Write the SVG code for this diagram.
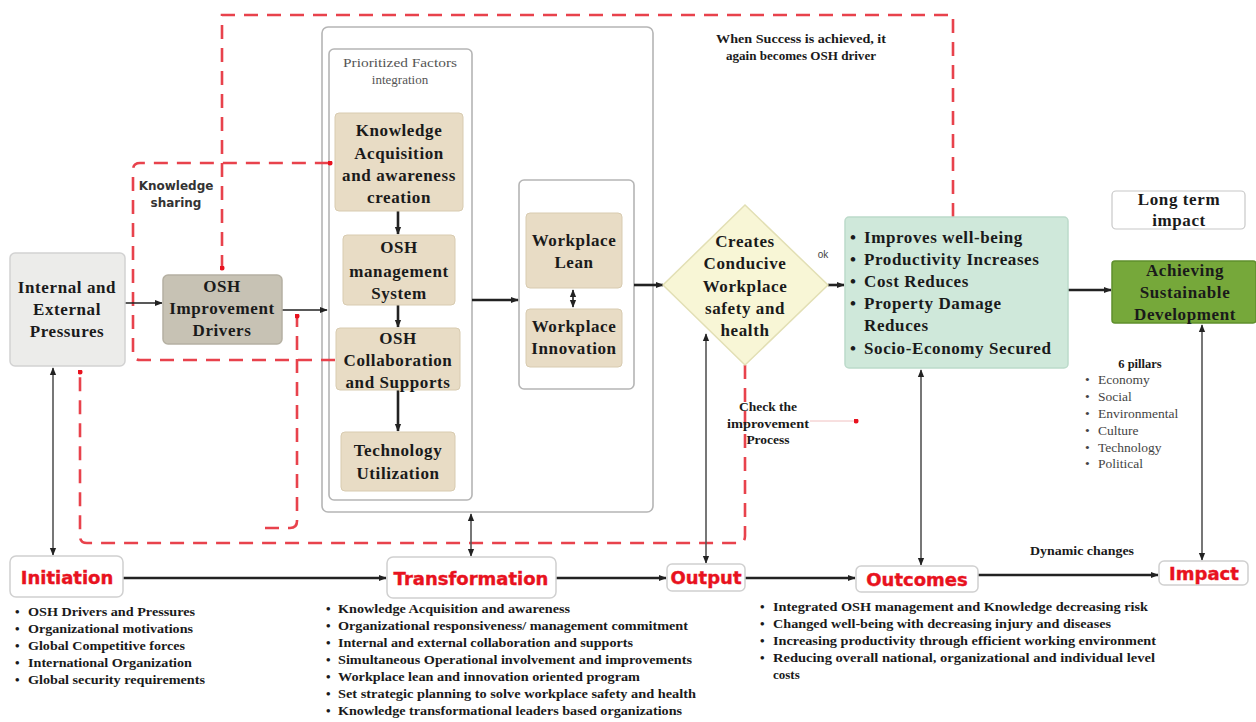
<svg xmlns="http://www.w3.org/2000/svg" width="1256" height="722" viewBox="0 0 1256 722">
<style>
.t{font-family:"Liberation Serif","Times New Roman",serif;font-weight:bold;fill:#1a1a1a;}
.n{font-size:17px;letter-spacing:0.6px;text-anchor:middle;}
.s{font-size:13px;}
.sm{font-size:12.5px;}
.r{font-family:"DejaVu Sans","Liberation Sans",sans-serif;font-weight:bold;fill:#e8121e;stroke:#e8121e;stroke-width:0.4;font-size:18px;text-anchor:middle;}
.lb{fill:#fff;stroke:#d0d0d0;stroke-width:1.5;}
.tan{fill:#e8dcc5;stroke:#d8cbb0;stroke-width:1;}
.c{fill:none;stroke:#222;stroke-width:1.6;}
.ck{fill:none;stroke:#222;stroke-width:2.6;}
.cg{fill:none;stroke:#555;stroke-width:1.6;}
.rd{fill:none;stroke:#e8424c;stroke-width:2.6;stroke-dasharray:14 9;}
.ks{font-family:"DejaVu Sans","Liberation Sans",sans-serif;font-weight:bold;font-size:12px;fill:#333;text-anchor:middle;}
</style>
<defs>
<marker id="a" viewBox="0 0 10 10" refX="9" refY="5" markerWidth="8" markerHeight="8" markerUnits="userSpaceOnUse" orient="auto-start-reverse"><path d="M0,1 L10,5 L0,9 Z" fill="#222"/></marker>
<marker id="d" viewBox="0 0 10 10" refX="5" refY="5" markerWidth="5" markerHeight="5" markerUnits="userSpaceOnUse"><circle cx="5" cy="5" r="5" fill="#e8121e"/></marker>
</defs>
<rect width="1256" height="722" fill="#fff"/>

<!-- containers -->
<g id="outer-box"><rect x="322" y="27" width="331" height="485" rx="6" fill="none" stroke="#b5b5b5" stroke-width="1.6"/></g>
<g id="prioritized-box"><rect x="329" y="49" width="143" height="451" rx="5" fill="none" stroke="#b5b5b5" stroke-width="1.6"/>
<text x="400" y="67" font-family="Liberation Serif,serif" font-size="13" fill="#555" text-anchor="middle" textLength="114" lengthAdjust="spacingAndGlyphs">Prioritized Factors</text>
<text x="400" y="84" font-family="Liberation Serif,serif" font-size="13" fill="#555" text-anchor="middle">integration</text></g>
<g id="workplace-box"><rect x="519" y="180" width="115" height="209" rx="5" fill="none" stroke="#b5b5b5" stroke-width="1.6"/></g>

<g id="connectors">
<path class="rd" d="M953,217 V15 H222 V268" marker-end="url(#d)"/>
<path class="rd" d="M335,360 H140 Q133,360 133,353 V170 Q133,163 140,163 H330" marker-end="url(#d)"/>
<path class="rd" d="M265,528 H290 Q297,528 297,521 V316" marker-end="url(#d)"/>
<path class="rd" d="M745,365 V536 Q745,543 738,543 H87 Q80,543 80,536 V372" marker-end="url(#d)"/>
<path d="M810,421 H856" stroke="#f0c0c0" stroke-width="1" fill="none" marker-end="url(#d)"/>
<path class="c" d="M125,303 H162" marker-end="url(#a)"/>
<path class="c" d="M282,310 H327" marker-end="url(#a)"/>
<path class="ck" d="M398,211 V234" marker-end="url(#a)"/>
<path class="ck" d="M398,305 V327" marker-end="url(#a)"/>
<path class="ck" d="M398,390 V431" marker-end="url(#a)"/>
<path class="ck" d="M472,300 H518" marker-end="url(#a)"/>
<path class="c" d="M573,290 V307" marker-start="url(#a)" marker-end="url(#a)"/>
<path class="ck" d="M634,285 H663" marker-end="url(#a)"/>
<path class="ck" d="M828,285 H844" marker-end="url(#a)"/>
<path class="ck" d="M1068,290 H1111" marker-end="url(#a)"/>
<path class="ck" d="M123,578 H386" marker-end="url(#a)"/>
<path class="ck" d="M556,578 H666" marker-end="url(#a)"/>
<path class="ck" d="M745,578 H855" marker-end="url(#a)"/>
<path class="ck" d="M978,575 H1158" marker-end="url(#a)"/>
<path class="cg" d="M53,368 V555" marker-start="url(#a)" marker-end="url(#a)"/>
<path class="cg" d="M471,514 V556" marker-start="url(#a)" marker-end="url(#a)"/>
<path class="cg" d="M706,334 V563" marker-start="url(#a)" marker-end="url(#a)"/>
<path class="cg" d="M921,370 V565" marker-start="url(#a)" marker-end="url(#a)"/>
<path class="cg" d="M1202,325 V560" marker-start="url(#a)" marker-end="url(#a)"/>
</g>

<g id="internal-external">
<rect x="10" y="253" width="115" height="113" rx="5" fill="#ececea" stroke="#d2d2d2" stroke-width="1.5"/>
<text class="t n" x="67" y="293">Internal and</text>
<text class="t n" x="67" y="315">External</text>
<text class="t n" x="67" y="337">Pressures</text>
</g>
<g id="osh-drivers">
<rect x="163" y="275" width="119" height="69" rx="5" fill="#c7c2b4" stroke="#b5b0a2" stroke-width="1.5"/>
<text class="t n" x="222" y="292">OSH</text>
<text class="t n" x="222" y="314">Improvement</text>
<text class="t n" x="222" y="336">Drivers</text>
</g>
<g id="knowledge-acquisition">
<rect class="tan" x="335" y="113" width="128" height="98" rx="4"/>
<text class="t n" x="399" y="136">Knowledge</text>
<text class="t n" x="399" y="159">Acquisition</text>
<text class="t n" x="399" y="181">and awareness</text>
<text class="t n" x="399" y="203">creation</text>
</g>
<g id="osh-management">
<rect class="tan" x="343" y="235" width="112" height="70" rx="4"/>
<text class="t n" x="399" y="253">OSH</text>
<text class="t n" x="399" y="277">management</text>
<text class="t n" x="399" y="299">System</text>
</g>
<g id="osh-collaboration">
<rect class="tan" x="336" y="328" width="124" height="62" rx="4"/>
<text class="t n" x="398" y="344">OSH</text>
<text class="t n" x="398" y="366">Collaboration</text>
<text class="t n" x="398" y="388">and Supports</text>
</g>
<g id="technology">
<rect class="tan" x="341" y="432" width="114" height="59" rx="4"/>
<text class="t n" x="398" y="456">Technology</text>
<text class="t n" x="398" y="479">Utilization</text>
</g>
<g id="workplace-lean">
<rect class="tan" x="526" y="213" width="96" height="75" rx="4"/>
<text class="t n" x="574" y="246">Workplace</text>
<text class="t n" x="574" y="268">Lean</text>
</g>
<g id="workplace-innovation">
<rect class="tan" x="526" y="309" width="96" height="58" rx="4"/>
<text class="t n" x="574" y="332">Workplace</text>
<text class="t n" x="574" y="354">Innovation</text>
</g>
<g id="conducive">
<polygon points="745,205 828,285 745,365 663,285" fill="#f8f6d6" stroke="#e2dfb4" stroke-width="1.5"/>
<text class="t n" x="745" y="247">Creates</text>
<text class="t n" x="745" y="269">Conducive</text>
<text class="t n" x="745" y="292">Workplace</text>
<text class="t n" x="745" y="314">safety and</text>
<text class="t n" x="745" y="336">health</text>
</g>
<g id="outcome-benefits">
<rect x="845" y="217" width="223" height="151" rx="4" fill="#cfe8da" stroke="#bcdaca" stroke-width="1.5"/>
<g class="t" font-size="17" style="letter-spacing:0.6px">
<text x="850" y="243">•</text><text x="864" y="243">Improves well-being</text>
<text x="850" y="265">•</text><text x="864" y="265">Productivity Increases</text>
<text x="850" y="287">•</text><text x="864" y="287">Cost Reduces</text>
<text x="850" y="309">•</text><text x="864" y="309">Property Damage</text>
<text x="864" y="331">Reduces</text>
<text x="850" y="354">•</text><text x="864" y="354">Socio-Economy Secured</text>
</g>
</g>
<g id="achieving">
<rect x="1112" y="261" width="144" height="62" rx="3" fill="#76a83a" stroke="#5f8f2c" stroke-width="1.5"/>
<text class="t n" x="1185" y="276">Achieving</text>
<text class="t n" x="1185" y="298">Sustainable</text>
<text class="t n" x="1185" y="320">Development</text>
</g>
<g id="long-term">
<rect x="1112" y="191" width="133" height="38" rx="4" fill="#fff" stroke="#c8c8c8" stroke-width="1.2"/>
<text class="t n" x="1179" y="205" font-size="16">Long term</text>
<text class="t n" x="1179" y="226" font-size="16">impact</text>
</g>
<g id="pillars">
<text class="t sm" x="1140" y="368" text-anchor="middle">6 pillars</text>
<g font-family="Liberation Serif,serif" font-size="13.5" fill="#444">
<text x="1085" y="384">•</text><text x="1098" y="384">Economy</text>
<text x="1085" y="401">•</text><text x="1098" y="401">Social</text>
<text x="1085" y="418">•</text><text x="1098" y="418">Environmental</text>
<text x="1085" y="435">•</text><text x="1098" y="435">Culture</text>
<text x="1085" y="452">•</text><text x="1098" y="452">Technology</text>
<text x="1085" y="468">•</text><text x="1098" y="468">Political</text>
</g>
</g>
<g id="labels">
<text class="t sm" x="801" y="43" text-anchor="middle" textLength="170" lengthAdjust="spacingAndGlyphs">When Success is achieved, it</text>
<text class="t sm" x="801" y="60" text-anchor="middle" textLength="150" lengthAdjust="spacingAndGlyphs">again becomes OSH driver</text>
<text class="ks" x="176" y="190">Knowledge</text>
<text class="ks" x="176" y="207">sharing</text>
<text x="823" y="258" font-family="Liberation Sans,Arial,sans-serif" font-size="10" fill="#444" text-anchor="middle">ok</text>
<text class="t" font-size="13.5" x="768" y="411" text-anchor="middle">Check the</text>
<text class="t" font-size="13.5" x="768" y="428" text-anchor="middle" textLength="82" lengthAdjust="spacingAndGlyphs">improvement</text>
<text class="t" font-size="13.5" x="768" y="444" text-anchor="middle">Process</text>
<text class="t" font-size="13" x="1082" y="555" text-anchor="middle" textLength="104" lengthAdjust="spacingAndGlyphs">Dynamic changes</text>
</g>

<g id="initiation">
<rect class="lb" x="10" y="556" width="113" height="41" rx="6"/>
<text class="r" x="67" y="584">Initiation</text>
<g class="t s">
<text x="15" y="616">•</text><text x="28" y="616" textLength="167" lengthAdjust="spacingAndGlyphs">OSH Drivers and Pressures</text>
<text x="15" y="633">•</text><text x="28" y="633" textLength="165" lengthAdjust="spacingAndGlyphs">Organizational motivations</text>
<text x="15" y="650">•</text><text x="28" y="650" textLength="157" lengthAdjust="spacingAndGlyphs">Global Competitive forces</text>
<text x="15" y="667">•</text><text x="28" y="667" textLength="164" lengthAdjust="spacingAndGlyphs">International Organization</text>
<text x="15" y="684">•</text><text x="28" y="684" textLength="177" lengthAdjust="spacingAndGlyphs">Global security requirements</text>
</g>
</g>
<g id="transformation">
<rect class="lb" x="387" y="557" width="169" height="41" rx="6"/>
<text class="r" x="471" y="585">Transformation</text>
<g class="t s">
<text x="326" y="613">•</text><text x="338" y="613" textLength="232" lengthAdjust="spacingAndGlyphs">Knowledge Acquisition and awareness</text>
<text x="326" y="630">•</text><text x="338" y="630" textLength="350" lengthAdjust="spacingAndGlyphs">Organizational responsiveness/ management commitment</text>
<text x="326" y="647">•</text><text x="338" y="647" textLength="295" lengthAdjust="spacingAndGlyphs">Internal and external collaboration and supports</text>
<text x="326" y="664">•</text><text x="338" y="664" textLength="354" lengthAdjust="spacingAndGlyphs">Simultaneous Operational involvement and improvements</text>
<text x="326" y="681">•</text><text x="338" y="681" textLength="302" lengthAdjust="spacingAndGlyphs">Workplace lean and innovation oriented program</text>
<text x="326" y="698">•</text><text x="338" y="698" textLength="358" lengthAdjust="spacingAndGlyphs">Set strategic planning to solve  workplace safety and health</text>
<text x="326" y="715">•</text><text x="338" y="715" textLength="344" lengthAdjust="spacingAndGlyphs">Knowledge transformational leaders based organizations</text>
</g>
</g>
<g id="output">
<rect class="lb" x="667" y="564" width="78" height="27" rx="5"/>
<text class="r" x="706" y="584">Output</text>
</g>
<g id="outcomes">
<rect class="lb" x="856" y="566" width="122" height="26" rx="5"/>
<text class="r" x="917" y="586">Outcomes</text>
<g class="t s">
<text x="760" y="611">•</text><text x="773" y="611" textLength="375" lengthAdjust="spacingAndGlyphs">Integrated OSH  management and Knowledge decreasing risk</text>
<text x="760" y="628">•</text><text x="773" y="628" textLength="338" lengthAdjust="spacingAndGlyphs">Changed well-being with decreasing injury and diseases</text>
<text x="760" y="645">•</text><text x="773" y="645" textLength="383" lengthAdjust="spacingAndGlyphs">Increasing productivity through efficient working environment</text>
<text x="760" y="662">•</text><text x="773" y="662" textLength="382" lengthAdjust="spacingAndGlyphs">Reducing overall  national,  organizational and individual level</text>
<text x="773" y="679">costs</text>
</g>
</g>
<g id="impact">
<rect class="lb" x="1159" y="561" width="89" height="24" rx="5"/>
<text class="r" x="1204" y="580">Impact</text>
</g>
</svg>
